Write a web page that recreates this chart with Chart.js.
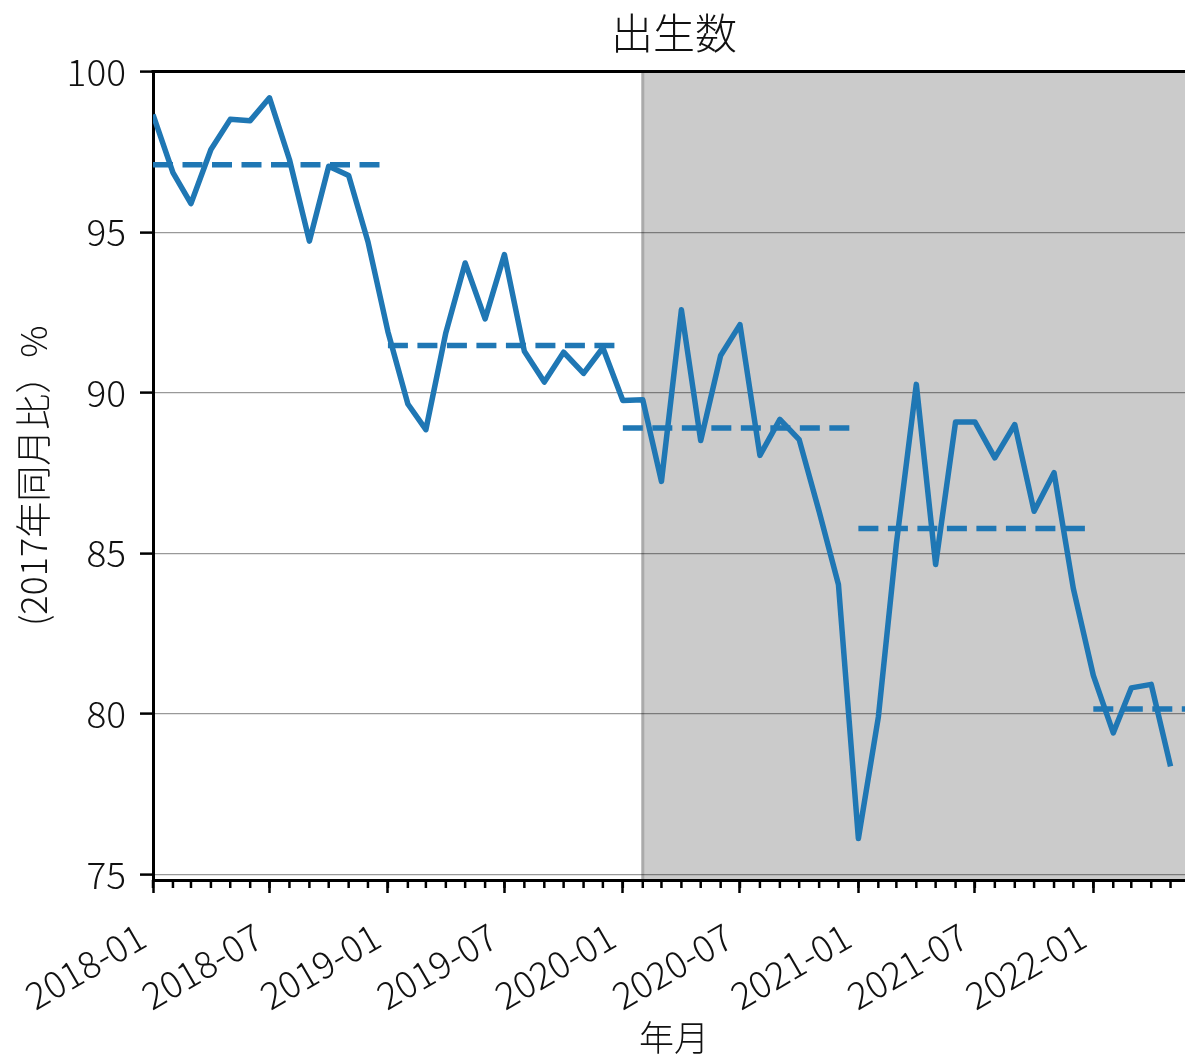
<!DOCTYPE html>
<html>
<head>
<meta charset="utf-8">
<script src="https://cdn.jsdelivr.net/npm/chart.js@4.4.1/dist/chart.umd.min.js"></script>
<style>
  body { margin: 0; background: #fff; }
  #wrap { width: 1185px; height: 1056px; overflow: hidden; }
</style>
</head>
<body>
<div id="wrap"><canvas id="births" width="1200" height="1056"></canvas></div>
<script>
const months = [
  '2018-01','2018-02','2018-03','2018-04','2018-05','2018-06','2018-07','2018-08','2018-09','2018-10','2018-11','2018-12',
  '2019-01','2019-02','2019-03','2019-04','2019-05','2019-06','2019-07','2019-08','2019-09','2019-10','2019-11','2019-12',
  '2020-01','2020-02','2020-03','2020-04','2020-05','2020-06','2020-07','2020-08','2020-09','2020-10','2020-11','2020-12',
  '2021-01','2021-02','2021-03','2021-04','2021-05','2021-06','2021-07','2021-08','2021-09','2021-10','2021-11','2021-12',
  '2022-01','2022-02','2022-03','2022-04','2022-05'
];
// births vs same month of 2017, %
const births = [
  98.66, 96.85, 95.89, 97.57, 98.51, 98.47, 99.18, 97.26, 94.72, 97.05, 96.76, 94.70,
  91.90, 89.65, 88.85, 91.87, 94.04, 92.30, 94.30, 91.29, 90.33, 91.26, 90.60, 91.40,
  89.76, 89.78, 87.24, 92.58, 88.51, 91.16, 92.12, 88.05, 89.17, 88.54, 86.30, 84.03,
  76.12, 79.90, 85.30, 90.26, 84.65, 89.09, 89.09, 87.97, 89.01, 86.31, 87.51, 83.90,
  81.20, 79.41, 80.81, 80.92, 78.37
];
const avgYears = ['2018', '2019', '2020', '2021', '2022'];
const yearAvg = [97.10, 91.47, 88.90, 85.77, 80.15];
const yTicks = [75, 80, 85, 90, 95, 100];
const xTickMonths = ['2018-01','2018-07','2019-01','2019-07','2020-01','2020-07','2021-01','2021-07','2022-01'];
const shadeFrom = '2020-02-01';
const xEnd = '2022-06-08';

const F = '"Noto Sans CJK JP", "Noto Sans", sans-serif';
const blue = '#1f77b4';

// days since 2018-01-01
function day(s) {
  const p = s.split('-');
  return (Date.UTC(+p[0], +p[1] - 1, +(p[2] || 1)) - Date.UTC(2018, 0, 1)) / 864e5;
}
const tickLabel = {};
xTickMonths.forEach(m => { tickLabel[day(m)] = m; });

const frame = {
  id: 'frame',
  beforeDraw(chart) {
    const { ctx, chartArea: a, scales: { x } } = chart;
    ctx.save();
    ctx.fillStyle = '#fff';
    ctx.fillRect(0, 0, chart.width, chart.height);
    const x0 = x.getPixelForValue(day(shadeFrom));
    ctx.fillStyle = '#cbcbcb';
    ctx.fillRect(x0, a.top, a.right - x0, a.bottom - a.top);
    ctx.strokeStyle = '#aaaaaa';
    ctx.lineWidth = 3;
    ctx.beginPath();
    ctx.moveTo(x0, a.top);
    ctx.lineTo(x0, a.bottom);
    ctx.stroke();
    ctx.restore();
  },
  afterDraw(chart) {
    const { ctx, chartArea: a, scales: { x } } = chart;
    ctx.save();
    ctx.strokeStyle = '#000';
    ctx.lineWidth = 3;
    ctx.beginPath();
    ctx.moveTo(a.left - 1.5, a.top);
    ctx.lineTo(a.right + 1.5, a.top);
    ctx.moveTo(a.right, a.top);
    ctx.lineTo(a.right, a.bottom);
    ctx.stroke();
    // minor ticks, one per month
    ctx.lineWidth = 2.5;
    ctx.beginPath();
    for (let y = 2018; y <= 2022; y++) {
      for (let m = 1; m <= 12; m++) {
        const v = day(y + '-' + m);
        if (v > x.max) break;
        const px = x.getPixelForValue(v);
        ctx.moveTo(px, a.bottom);
        ctx.lineTo(px, a.bottom + 8);
      }
    }
    ctx.stroke();
    ctx.restore();
  }
};

const datasets = [{
  data: months.map((m, i) => ({ x: day(m), y: births[i] })),
  borderColor: blue,
  borderWidth: 5.5,
  borderJoinStyle: 'round',
  pointRadius: 0,
  tension: 0
}];
avgYears.forEach((yr, i) => {
  datasets.push({
    data: [{ x: day(yr + '-01-01'), y: yearAvg[i] }, { x: day(yr + '-12-31'), y: yearAvg[i] }],
    borderColor: blue,
    borderWidth: 5.5,
    borderDash: [20, 9.5],
    pointRadius: 0
  });
});

new Chart(document.getElementById('births'), {
  type: 'line',
  data: { datasets },
  plugins: [frame],
  options: {
    responsive: false,
    animation: false,
    layout: { padding: { left: 0, right: 5, top: 0, bottom: 0 } },
    plugins: {
      legend: { display: false },
      tooltip: { enabled: false },
      title: {
        display: true,
        text: '出生数',
        fullSize: false,
        color: '#111',
        font: { family: F, size: 42, weight: 300, lineHeight: 1 },
        padding: { top: 12, bottom: 17.5 }
      }
    },
    scales: {
      x: {
        type: 'linear',
        min: 0,
        max: day(xEnd),
        afterBuildTicks: s => { s.ticks = xTickMonths.map(m => ({ value: day(m) })); },
        afterFit: s => { s.height = 176; },
        grid: { drawOnChartArea: false, drawTicks: true, tickLength: 13, tickColor: '#000', tickWidth: 2.5 },
        border: { color: '#000', width: 3 },
        ticks: {
          autoSkip: false, minRotation: 30, maxRotation: 30, padding: 21, labelOffset: -11,
          color: '#111', font: { family: F, size: 37, weight: 300 },
          callback: v => tickLabel[v]
        },
        title: {
          display: true, text: '年月', color: '#111',
          font: { family: F, size: 35, weight: 300, lineHeight: 1 },
          padding: { top: 0, bottom: 1 }
        }
      },
      y: {
        min: 74.83,
        max: 100,
        afterBuildTicks: s => { s.ticks = yTicks.map(v => ({ value: v })); },
        afterFit: s => { s.width = 153; },
        grid: { color: 'rgba(0,0,0,0.4)', lineWidth: 1.2, tickColor: '#000', tickWidth: 2.5, tickLength: 13 },
        border: { color: '#000', width: 3 },
        ticks: { padding: 14, color: '#111', font: { family: F, size: 37, weight: 300 } },
        title: {
          display: true, text: '(2017年同月比）%', color: '#111',
          font: { family: F, size: 36, weight: 300, lineHeight: 1 },
          padding: { top: 15, bottom: 0 }
        }
      }
    }
  }
});
</script>
</body>
</html>
